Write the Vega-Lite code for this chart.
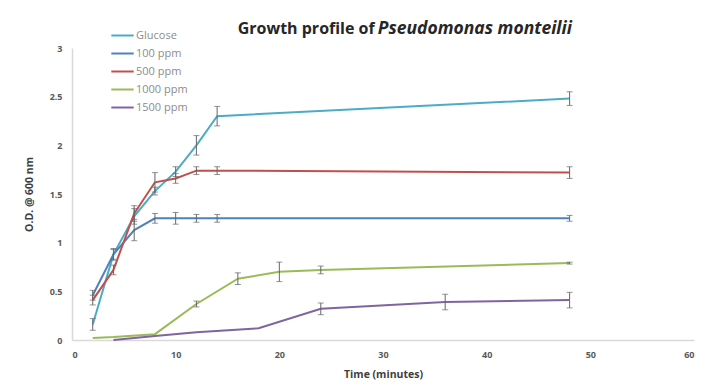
{
  "$schema": "https://vega.github.io/schema/vega-lite/v6.json",
  "width": 622,
  "height": 292,
  "autosize": {"type": "none"},
  "padding": {"left": 72, "top": 48, "right": 27, "bottom": 50},
  "background": "white",
  "config": {
    "view": {"stroke": null},
    "font": "Open Sans",
    "axis": {
      "grid": false,
      "ticks": false,
      "domainColor": "#d9d9d9",
      "domainWidth": 1.5,
      "labelColor": "#595959",
      "labelFontWeight": "bold",
      "labelFontSize": 9,
      "labelPadding": 10,
      "titleColor": "#404040",
      "titleFontWeight": "bold",
      "titleFontSize": 10.5
    }
  },
  "datasets": {
    "growth": [
      {"series": "Glucose", "t": 2, "od": 0.16, "err": 0.06},
      {"series": "Glucose", "t": 4, "od": 0.88, "err": 0.06},
      {"series": "Glucose", "t": 6, "od": 1.27, "err": 0.08},
      {"series": "Glucose", "t": 8, "od": 1.53, "err": 0.04},
      {"series": "Glucose", "t": 10, "od": 1.73, "err": 0.05},
      {"series": "Glucose", "t": 12, "od": 2.0, "err": 0.1},
      {"series": "Glucose", "t": 14, "od": 2.3, "err": 0.1},
      {"series": "Glucose", "t": 48, "od": 2.48, "err": 0.07},
      {"series": "100 ppm", "t": 2, "od": 0.46, "err": 0.05},
      {"series": "100 ppm", "t": 4, "od": 0.88, "err": 0.05},
      {"series": "100 ppm", "t": 6, "od": 1.13, "err": 0.11},
      {"series": "100 ppm", "t": 8, "od": 1.25, "err": 0.05},
      {"series": "100 ppm", "t": 10, "od": 1.25, "err": 0.06},
      {"series": "100 ppm", "t": 12, "od": 1.25, "err": 0.04},
      {"series": "100 ppm", "t": 14, "od": 1.25, "err": 0.04},
      {"series": "100 ppm", "t": 48, "od": 1.25, "err": 0.03},
      {"series": "500 ppm", "t": 2, "od": 0.41, "err": 0.05},
      {"series": "500 ppm", "t": 4, "od": 0.72, "err": 0.05},
      {"series": "500 ppm", "t": 6, "od": 1.3, "err": 0.08},
      {"series": "500 ppm", "t": 8, "od": 1.62, "err": 0.1},
      {"series": "500 ppm", "t": 10, "od": 1.66, "err": 0.05},
      {"series": "500 ppm", "t": 12, "od": 1.74, "err": 0.04},
      {"series": "500 ppm", "t": 14, "od": 1.74, "err": 0.04},
      {"series": "500 ppm", "t": 48, "od": 1.72, "err": 0.06},
      {"series": "1000 ppm", "t": 2, "od": 0.02, "err": 0},
      {"series": "1000 ppm", "t": 4, "od": 0.03, "err": 0},
      {"series": "1000 ppm", "t": 8, "od": 0.06, "err": 0},
      {"series": "1000 ppm", "t": 12, "od": 0.37, "err": 0.03},
      {"series": "1000 ppm", "t": 16, "od": 0.63, "err": 0.06},
      {"series": "1000 ppm", "t": 20, "od": 0.7, "err": 0.1},
      {"series": "1000 ppm", "t": 24, "od": 0.72, "err": 0.04},
      {"series": "1000 ppm", "t": 48, "od": 0.79, "err": 0.01},
      {"series": "1500 ppm", "t": 4, "od": 0.0, "err": 0},
      {"series": "1500 ppm", "t": 8, "od": 0.04, "err": 0},
      {"series": "1500 ppm", "t": 12, "od": 0.08, "err": 0},
      {"series": "1500 ppm", "t": 18, "od": 0.12, "err": 0},
      {"series": "1500 ppm", "t": 24, "od": 0.32, "err": 0.06},
      {"series": "1500 ppm", "t": 36, "od": 0.39, "err": 0.08},
      {"series": "1500 ppm", "t": 48, "od": 0.41, "err": 0.08}
    ],
    "titleA": [{"label": "Growth profile of"}],
    "titleB": [{"label": "Pseudomonas monteilii"}]
  },
  "layer": [
    {
      "data": {"name": "growth"},
      "mark": {"type": "line", "strokeWidth": 2},
      "encoding": {
        "x": {
          "field": "t", "type": "quantitative",
          "scale": {"domain": [0, 60], "nice": false},
          "axis": {"values": [0, 10, 20, 30, 40, 50, 60], "title": "Time (minutes)", "titlePadding": 10}
        },
        "y": {
          "field": "od", "type": "quantitative",
          "scale": {"domain": [0, 3], "nice": false},
          "axis": {"values": [0, 0.5, 1, 1.5, 2, 2.5, 3], "format": "~g", "title": "O.D. @ 600 nm", "titlePadding": 15}
        },
        "color": {
          "field": "series", "type": "nominal",
          "scale": {
            "domain": ["Glucose", "100 ppm", "500 ppm", "1000 ppm", "1500 ppm"],
            "range": ["#4bacc6", "#4f81bd", "#c0504d", "#9bbb59", "#8064a2"]
          },
          "legend": {
            "title": null,
            "orient": "none",
            "legendX": 38,
            "legendY": -25,
            "symbolType": "stroke",
            "symbolSize": 500,
            "symbolStrokeWidth": 2,
            "rowPadding": -4.5,
            "labelFontSize": 11,
            "labelColor": "#8c8c8c",
            "labelOffset": 1
          }
        }
      }
    },
    {
      "data": {"name": "growth"},
      "transform": [{"filter": "datum.err > 0"}],
      "mark": {"type": "errorbar", "color": "#666666", "thickness": 1, "ticks": {"size": 6, "color": "#666666"}},
      "encoding": {
        "x": {"field": "t", "type": "quantitative", "title": "Time (minutes)"},
        "y": {"field": "od", "type": "quantitative", "title": "O.D. @ 600 nm"},
        "yError": {"field": "err"}
      }
    },
    {
      "data": {"name": "titleA"},
      "mark": {"type": "text", "align": "right", "baseline": "middle", "fontWeight": "bold", "fontSize": 16, "color": "#262626"},
      "encoding": {
        "x": {"datum": 29.2},
        "y": {"datum": 3.2},
        "text": {"field": "label"}
      }
    },
    {
      "data": {"name": "titleB"},
      "mark": {"type": "text", "align": "left", "baseline": "middle", "fontWeight": "bold", "fontStyle": "italic", "fontSize": 17.5, "color": "#262626"},
      "encoding": {
        "x": {"datum": 29.5},
        "y": {"datum": 3.2},
        "text": {"field": "label"}
      }
    }
  ]
}
